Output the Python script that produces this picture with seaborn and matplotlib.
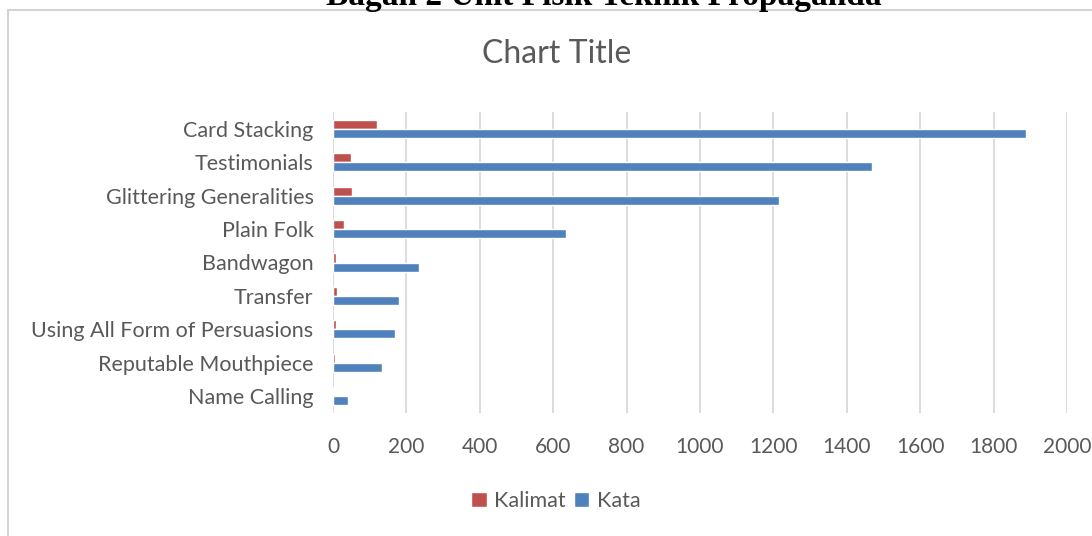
import matplotlib
matplotlib.use("Agg")
import matplotlib.pyplot as plt
import seaborn as sns
import pandas as pd
from matplotlib.patches import Rectangle

categories = ["Card Stacking", "Testimonials", "Glittering Generalities", "Plain Folk",
              "Bandwagon", "Transfer", "Using All Form of Persuasions",
              "Reputable Mouthpiece", "Name Calling"]
kalimat = [120, 48, 52, 30, 8, 11, 7, 5, 4]
kata = [1889, 1470, 1214, 635, 234, 180, 168, 133, 41]
series_names = ["Kalimat", "Kata"]
x_ticks = [0, 200, 400, 600, 800, 1000, 1200, 1400, 1600, 1800, 2000]

df = pd.DataFrame({
    "Teknik": categories * 2,
    "Jumlah": kalimat + kata,
    "Seri": [series_names[0]] * len(categories) + [series_names[1]] * len(categories),
})

sns.set_style("white")
plt.rcParams["font.family"] = ["Lato", "DejaVu Sans"]

W, H = 1092, 536
fig = plt.figure(figsize=(W / 100, H / 100), dpi=100)
fig.patch.set_facecolor("white")

# chart frame
fig.patches.append(Rectangle((8 / W, -0.1), 1.2, 1 - 10 / H + 0.1, transform=fig.transFigure,
                             facecolor="none", edgecolor="#D4D4D4", linewidth=1.5, zorder=0))

ax = fig.add_axes([333 / W, 1 - 413 / H, (1067 - 333) / W, (413 - 112) / H])

palette = {"Kalimat": "#C0504D", "Kata": "#4F81BD"}
sns.barplot(data=df, y="Teknik", x="Jumlah", hue="Seri", order=categories,
            hue_order=series_names, palette=palette, width=0.54, orient="h",
            saturation=1, ax=ax, legend=True, zorder=3)

ax.set_xlim(0, 2000)
ax.set_xticks(x_ticks)
ax.set_xticklabels([str(t) for t in x_ticks])
ax.set_xlabel("")
ax.set_ylabel("")
for s in ax.spines.values():
    s.set_visible(False)
ax.grid(axis="x", color="#D9D9D9", linewidth=1.3, zorder=0)
ax.grid(axis="y", visible=False)
ax.set_axisbelow(True)
ax.tick_params(axis="y", length=0, pad=14, labelsize=15.5, labelcolor="#595959")
ax.tick_params(axis="x", length=0, pad=17, labelsize=15, labelcolor="#595959")

leg = ax.get_legend()
handles, labels = ax.get_legend_handles_labels()
leg.remove()
fig.legend(handles, labels, loc="center", bbox_to_anchor=(556 / W, 1 - 501 / H), ncol=2,
           frameon=False, fontsize=15.5, labelcolor="#595959", handlelength=0.7,
           handleheight=0.7, handletextpad=0.35, columnspacing=0.4)

fig.text(557 / W, 1 - 54 / H, "Chart Title", ha="center", va="center",
         fontsize=23, color="#595959")

fig.text(604 / W, 1 - 5 / H, "Bagan 2 Unit Fisik Teknik Propaganda", ha="center",
         va="baseline", fontsize=24, fontweight="bold", family="Liberation Serif",
         color="black")

fig.savefig("out.png", dpi=100, facecolor="white")
